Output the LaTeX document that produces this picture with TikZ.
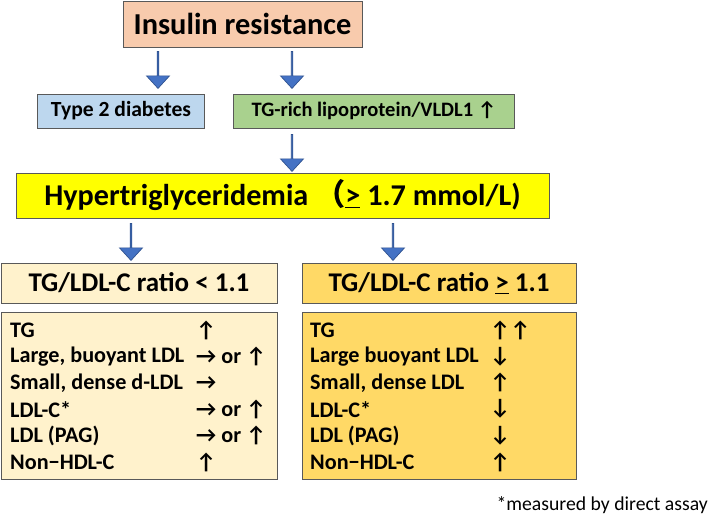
\documentclass[tikz,border=0pt]{standalone}
\usepackage{fontspec}
\setmainfont{Carlito}
\newfontfamily\symfont{Carlito}
\newfontfamily\cjkfont{Noto Sans CJK SC}
\usetikzlibrary{shapes.arrows}
\usetikzlibrary{positioning}

\definecolor{insulin}{RGB}{248,203,173}
\definecolor{diabetes}{RGB}{189,215,238}
\definecolor{vldl}{RGB}{169,209,142}
\definecolor{hyper}{RGB}{255,255,0}
\definecolor{lowratio}{RGB}{255,242,204}
\definecolor{highratio}{RGB}{255,217,102}
\definecolor{boxline}{RGB}{89,89,89}
\definecolor{arrowfill}{RGB}{68,114,196}
\definecolor{arrowline}{RGB}{47,82,143}

\newcommand{\aup}{{\symfont ↑}}
\newcommand{\art}{{\symfont →}}
\newcommand{\adn}{{\symfont ↓}}

\begin{document}
\begin{tikzpicture}[x=1pt,y=-1pt,
  box/.style={draw=boxline,line width=0.8pt,inner sep=0pt,font=\bfseries},
  down/.style={single arrow,draw=arrowline,fill=arrowfill,line width=0.7pt,shape border rotate=270,minimum height=37pt,minimum width=23pt,single arrow head extend=5pt,single arrow tip angle=85,inner sep=0pt},
  row/.style={anchor=west,inner sep=0pt,font=\bfseries\fontsize{22.2}{22.2}\selectfont}]
      \useasboundingbox (0,0) rectangle (709,515);

     % top level
     \node [box,fill=insulin,minimum width=239pt,minimum height=46pt,font=\bfseries\fontsize{30.4}{30.4}\selectfont] (ins) at (242.5,24) {Insulin resistance};
     \node [down] (a1) at (158,69.5) {};
     \node [down] (a2) at (292,69.5) {};
     \node [box,fill=diabetes,minimum width=167pt,minimum height=34pt,font=\bfseries\fontsize{21.6}{21.6}\selectfont] (t2d) at (121,111) {Type 2 diabetes};
     \node [box,fill=vldl,minimum width=281pt,minimum height=34pt,font=\bfseries\fontsize{20.5}{20.5}\selectfont] (tgrl) at (374,111) {TG-rich lipoprotein/VLDL1 \aup};
     \node [down] (a3) at (292,152.5) {};
     \node [box,fill=hyper,minimum width=533pt,minimum height=45pt,font=\bfseries\fontsize{30.2}{30.2}\selectfont] (htg) at (282.5,195.5) {Hypertriglyceridemia {\cjkfont （}\underline{>} 1.7 mmol/L)};
     \node [down] (a4) at (131,241.5) {};
     \node [down] (a5) at (393,241.5) {};

     % ratio boxes
     \node [box,fill=lowratio,minimum width=276pt,minimum height=40pt,font=\bfseries\fontsize{27}{27}\selectfont] (low) at (139,283) {TG/LDL-C ratio < 1.1};
     \node [box,fill=highratio,minimum width=274pt,minimum height=40pt,font=\bfseries\fontsize{27}{27}\selectfont] (high) at (439,283) {TG/LDL-C ratio \underline{>} 1.1};
     \node [box,fill=lowratio,minimum width=276pt,minimum height=167pt] (lowtab) at (139,395.5) {};
     \node [box,fill=highratio,minimum width=274pt,minimum height=167pt] (hightab) at (439,395.5) {};

     % table rows
     \foreach \name/\change [count=\i] in {TG/\aup, {Large, buoyant LDL}/{\art{} or \aup}, {Small, dense d-LDL}/\art, LDL-C*/{\art{} or \aup}, LDL (PAG)/{\art{} or \aup}, Non−HDL-C/\aup}{
       \node [row] (l\i) at (10,{330+26.4*(\i-1)}) {\name};
       \node [row] (lc\i) at (196,{330+26.4*(\i-1)}) {\change};
     }
     \foreach \name/\change [count=\i] in {TG/{\aup\aup}, Large buoyant LDL/\adn, {Small, dense LDL}/\aup, LDL-C*/\adn, LDL (PAG)/\adn, Non−HDL-C/\aup}{
       \node [row] (r\i) at (310,{330+26.4*(\i-1)}) {\name};
       \node [row] (rc\i) at (490,{330+26.4*(\i-1)}) {\change};
     }

     \node [anchor=east,inner sep=0pt,font=\fontsize{19.7}{19.7}\selectfont] (note) at (708,505) {*measured by direct assay};

  \end{tikzpicture}
\end{document}
